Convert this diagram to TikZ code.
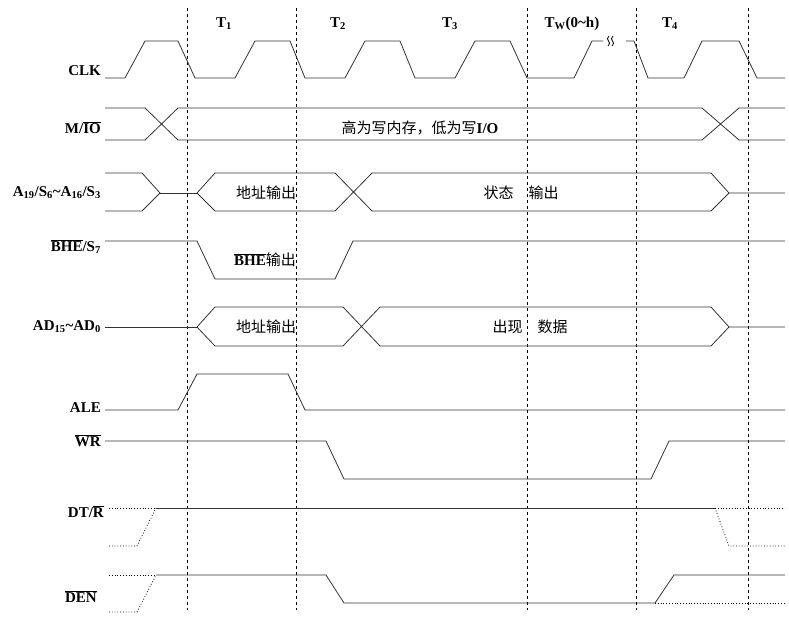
\documentclass[tikz,border=0pt]{standalone}
\usepackage{fontspec}
\setmainfont{Liberation Serif}
\newfontfamily\cjk{Noto Sans CJK SC}
\usetikzlibrary{positioning}
\tikzset{
  sig/.style={line width=0.8pt,black!80},
  guess/.style={line width=0.8pt,dotted},
  tick/.style={dashed,line width=0.8pt},
  lbl/.style={anchor=east,inner sep=0pt,font=\fontsize{15}{17}\selectfont\bfseries},
  txt/.style={inner sep=0pt,font=\fontsize{15}{17}\selectfont\cjk},
  per/.style={inner sep=0pt,font=\fontsize{15}{17}\selectfont\bfseries}
}
\newcommand{\ob}[1]{$\overline{\mbox{#1}}$}
\begin{document}
\begin{tikzpicture}[x=1pt,y=-1pt]
  \useasboundingbox (0,0) rectangle (789,618);

  % clock periods
  \foreach \xx in {187,296,527,636,748}
    \draw [tick] (\xx,8) -- (\xx,610);
  \node [per] (t1) at (224,24) {T\textsubscript{1}};
  \node [per] (t2) at (338,24) {T\textsubscript{2}};
  \node [per] (t3) at (450,24) {T\textsubscript{3}};
  \node [per] (tw) at (572,24) {T\textsubscript{W}(0\textasciitilde h)};
  \node [per] (t4) at (670,24) {T\textsubscript{4}};

  % signal names
  \node [lbl] (clk) at (101,71) {CLK};
  \node [lbl] (mio) at (101,128) {M/\ob{IO}};
  \node [lbl] (adr) at (101,193) {A\textsubscript{19}/S\textsubscript{6}\textasciitilde A\textsubscript{16}/S\textsubscript{3}};
  \node [lbl] (bhe) at (101,247) {\ob{BHE}/S\textsubscript{7}};
  \node [lbl] (ad) at (101,327) {AD\textsubscript{15}\textasciitilde AD\textsubscript{0}};
  \node [lbl] (ale) at (101,408) {ALE};
  \node [lbl] (wr) at (101,441) {\ob{WR}};
  \node [lbl] (dtr) at (104,512) {DT/\ob{R}};
  \node [lbl] (den) at (97,597) {\ob{DEN}};

  % CLK
  \draw [sig] (105,78) -- (125,78) -- (145,41) -- (178,41) -- (195,78) -- (235,78) -- (255,41)
    -- (290,41) -- (305,78) -- (345,78) -- (365,41) -- (400,41) -- (415,78) -- (455,78)
    -- (475,41) -- (510,41) -- (527,78) -- (537,78) -- (574,78) -- (592,41) -- (603,41);
  \draw [sig] (626,41) -- (634,41) -- (648,78) -- (684,78) -- (702,41) -- (739,41) -- (757,78) -- (785,78);
  \draw [line width=0.8pt] (609,36) .. controls (604,40) and (613,42) .. (608,46);
  \draw [line width=0.8pt] (613,36) .. controls (608,40) and (617,42) .. (612,46);

  % M/IO
  \draw [sig] (105,108) -- (145,108) -- (178,140) -- (702,140) -- (739,108) -- (785,108);
  \draw [sig] (105,140) -- (145,140) -- (178,108) -- (702,108) -- (739,140) -- (785,140);
  \node [txt] (mtx) at (420,128) {高为写内存，低为写{\rmfamily\bfseries I/O}};

  % A19/S6~A16/S3
  \draw [sig] (105,173) -- (142,173) -- (160,193) -- (142,211) -- (105,211);
  \draw [sig] (160,193) -- (197,193);
  \draw [sig] (197,193) -- (215,173) -- (335,173) -- (372,211) -- (711,211) -- (729,193);
  \draw [sig] (197,193) -- (215,211) -- (335,211) -- (372,173) -- (711,173) -- (729,193) -- (785,193);
  \node [txt] (atx1) at (266,193) {地址输出};
  \node [txt] (atx2) at (521,193) {状态\quad 输出};

  % BHE/S7
  \draw [sig] (105,241) -- (197,241) -- (215,279) -- (335,279) -- (353,241) -- (785,241);
  \node [txt] (btx) at (265,260) {{\rmfamily\bfseries\ob{BHE}}输出};

  % AD15~AD0
  \draw [sig] (105,327) -- (197,327);
  \draw [sig] (197,327) -- (215,307) -- (343,307) -- (380,346) -- (711,346) -- (729,327);
  \draw [sig] (197,327) -- (215,346) -- (343,346) -- (380,307) -- (711,307) -- (729,327) -- (785,327);
  \node [txt] (dtx1) at (266,327) {地址输出};
  \node [txt] (dtx2) at (530,327) {出现\quad 数据};

  % ALE
  \draw [sig] (105,410) -- (178,410) -- (197,374) -- (288,374) -- (305,410) -- (785,410);

  % WR
  \draw [sig] (105,441) -- (326,441) -- (344,479) -- (651,479) -- (669,441) -- (785,441);

  % DT/R
  \draw [guess] (109,508) -- (156,508);
  \draw [guess] (109,546) -- (137,546) -- (156,508);
  \draw [sig] (156,508) -- (715,508);
  \draw [guess] (715,508) -- (785,508);
  \draw [guess] (715,508) -- (729,546) -- (785,546);

  % DEN
  \draw [guess] (109,575) -- (156,575);
  \draw [guess] (109,612) -- (137,612) -- (156,575);
  \draw [sig] (156,575) -- (326,575) -- (344,603) -- (655,603) -- (674,575) -- (785,575);
  \draw [guess] (655,603) -- (785,603);
\end{tikzpicture}
\end{document}
